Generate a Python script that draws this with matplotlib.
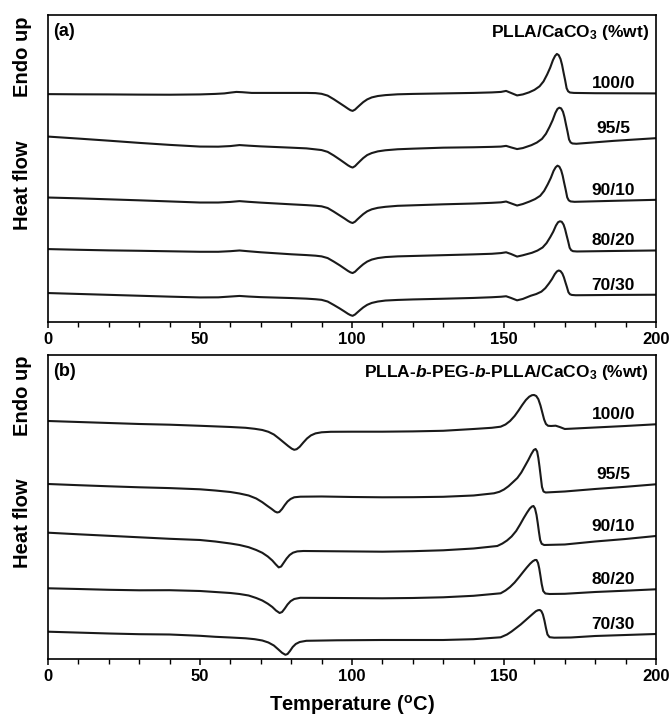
import matplotlib
matplotlib.use("Agg")
import matplotlib.pyplot as plt
from matplotlib.ticker import MultipleLocator

plt.rcParams['font.family'] = ['Liberation Sans', 'DejaVu Sans']
plt.rcParams['mathtext.fontset'] = 'custom'
plt.rcParams['mathtext.rm'] = 'Liberation Sans:bold'
plt.rcParams['mathtext.bf'] = 'Liberation Sans:bold'
plt.rcParams['mathtext.it'] = 'Liberation Sans:italic:bold'

# DSC heating scans, heat flow in arbitrary units (curves already offset)
labels = ['100/0', '95/5', '90/10', '80/20', '70/30']

# (a) PLLA/CaCO3
t_a_100 = [0, 10, 20, 30, 40, 50, 55, 58, 60, 62, 64, 67, 72, 80, 85,
           88, 90, 92, 94, 96, 97.5, 98.7, 99.5, 100.2, 101, 101.8, 102.7, 103.7, 105, 106.5, 108.5, 111, 115, 120, 130,
           140, 146, 149, 150.7, 152.3, 154.3, 156.2,
           158.2, 160, 161.7, 163, 164.2, 165.2, 166.1, 166.8, 167.4, 168, 168.6, 169.1, 169.6, 170.1, 170.6, 171.1, 171.7, 173,
           180, 190, 200]
hf_a_100 = [2.278, 2.276, 2.275, 2.273, 2.272, 2.275, 2.28, 2.285, 2.293, 2.30, 2.297, 2.29, 2.29, 2.29, 2.29,
            2.288, 2.281, 2.263, 2.227, 2.187, 2.157, 2.132, 2.117, 2.11, 2.123, 2.146, 2.171, 2.198, 2.225, 2.245, 2.259,
            2.268, 2.276, 2.28, 2.285,
            2.29, 2.295, 2.30, 2.31, 2.29, 2.265, 2.275,
            2.295, 2.32, 2.356, 2.405, 2.475, 2.543, 2.618, 2.66, 2.68, 2.668, 2.629, 2.571, 2.493, 2.419, 2.337, 2.306,
            2.294, 2.29,
            2.287, 2.286, 2.285]

t_a_95 = [0, 10, 20, 30, 40, 50, 56, 60, 63, 66, 70, 80, 85,
          88, 90, 92, 94, 96, 97.5, 98.7, 99.5, 100.2, 101, 101.8, 102.7, 103.7, 105, 106.5, 108.5, 111, 115, 120, 130,
          140, 146, 149, 150.7, 152.3, 154.3, 156.2,
          159, 160.8, 162.5, 163.8, 165, 166, 166.9, 167.6, 168.2, 168.8, 169.4, 169.9, 170.4, 170.9, 171.4, 171.9, 172.5, 173.8,
          186, 200]
hf_a_95 = [1.853, 1.833, 1.812, 1.79, 1.77, 1.753, 1.752, 1.758, 1.768, 1.762, 1.755, 1.742, 1.735,
           1.725, 1.718, 1.70, 1.664, 1.623, 1.591, 1.565, 1.551, 1.543, 1.557, 1.582, 1.609, 1.638, 1.668, 1.688, 1.705,
           1.716, 1.726, 1.732, 1.742,
           1.746, 1.75, 1.753, 1.76, 1.745, 1.728, 1.738,
           1.767, 1.793, 1.83, 1.881, 1.951, 2.017, 2.09, 2.13, 2.142, 2.135, 2.102, 2.047, 1.973, 1.902, 1.824, 1.795,
           1.784, 1.781,
           1.81, 1.837]

t_a_90 = [0, 10, 20, 30, 40, 50, 56, 60, 63, 66, 70, 80, 85,
          88, 90, 92, 94, 96, 97.5, 98.7, 99.5, 100.2, 101, 101.8, 102.7, 103.7, 105, 106.5, 108.5, 111, 115, 120, 130,
          140, 146, 149, 150.7, 152.3, 154.3, 156.2,
          158.4, 160.2, 161.9, 163.2, 164.4, 165.4, 166.3, 167, 167.6, 168.2, 168.8, 169.3, 169.8, 170.3, 170.8, 171.3, 171.9, 173.2,
          186, 200]
hf_a_90 = [1.243, 1.235, 1.225, 1.215, 1.204, 1.193, 1.193, 1.199, 1.207, 1.2, 1.192, 1.175, 1.167,
           1.161, 1.155, 1.138, 1.102, 1.063, 1.034, 1.009, 0.995, 0.988, 1.001, 1.025, 1.05, 1.077, 1.105, 1.125, 1.14,
           1.15, 1.16, 1.165, 1.175,
           1.183, 1.19, 1.195, 1.203, 1.185, 1.163, 1.178,
           1.203, 1.227, 1.26, 1.309, 1.376, 1.439, 1.509, 1.546, 1.562, 1.552, 1.516, 1.462, 1.389, 1.32, 1.244, 1.215,
           1.204, 1.20,
           1.21, 1.22]

t_a_80 = [0, 10, 20, 30, 40, 50, 56, 60, 63, 66, 70, 80, 85,
          88, 90, 92, 94, 96, 97.5, 98.7, 99.5, 100.2, 101, 101.8, 102.7, 103.7, 105, 106.5, 108.5, 111, 115, 120, 130,
          140, 146, 149, 150.7, 152.3, 154.3, 156.2,
          159.2, 161, 162.7, 164, 165.2, 166.2, 167.1, 167.8, 168.4, 169, 169.6, 170.1, 170.6, 171.1, 171.6, 172.1, 172.7, 174,
          186, 200]
hf_a_80 = [0.727, 0.72, 0.714, 0.71, 0.705, 0.70, 0.70, 0.706, 0.713, 0.705, 0.695, 0.675, 0.667,
           0.661, 0.654, 0.637, 0.602, 0.564, 0.533, 0.508, 0.494, 0.487, 0.50, 0.524, 0.549, 0.575, 0.602, 0.622, 0.637,
           0.647, 0.654, 0.658, 0.666,
           0.674, 0.68, 0.687, 0.695, 0.678, 0.652, 0.665,
           0.69, 0.712, 0.743, 0.787, 0.846, 0.901, 0.963, 0.996, 1.005, 1.0, 0.972, 0.926, 0.864, 0.805, 0.74, 0.716,
           0.706, 0.703,
           0.708, 0.713]

t_a_70 = [0, 10, 20, 30, 40, 50, 56, 60, 63, 66, 70, 80, 85,
          88, 90, 92, 94, 96, 97.5, 98.7, 99.5, 100.2, 101, 101.8, 102.7, 103.7, 105, 106.5, 108.5, 111, 115, 120, 130,
          140, 146, 149, 150.7, 152.3, 154.3, 156.2,
          158.8, 160.6, 162.3, 163.6, 164.8, 165.8, 166.7, 167.4, 168, 168.6, 169.2, 169.7, 170.2, 170.7, 171.2, 171.7, 172.3, 173.6,
          186, 200]
hf_a_70 = [0.287, 0.278, 0.269, 0.26, 0.251, 0.243, 0.244, 0.252, 0.258, 0.252, 0.246, 0.237, 0.231,
           0.225, 0.219, 0.202, 0.168, 0.132, 0.103, 0.079, 0.066, 0.059, 0.072, 0.094, 0.118, 0.143, 0.169, 0.188, 0.202,
           0.212, 0.218, 0.223, 0.23,
           0.238, 0.245, 0.25, 0.255, 0.238, 0.214, 0.228,
           0.26, 0.277, 0.301, 0.336, 0.383, 0.427, 0.476, 0.503, 0.513, 0.506, 0.482, 0.445, 0.395, 0.347, 0.295, 0.275,
           0.268, 0.265,
           0.268, 0.27]

# (b) PLLA-b-PEG-b-PLLA/CaCO3
t_b_100 = [0, 10, 20, 30, 40, 50,
           60, 65, 68, 70.5, 72.5, 74.3, 76, 77.6, 79, 80.2, 81, 81.8, 82.8, 84, 85.2, 86.5, 88, 90, 93, 100,
           110, 120, 130, 140, 146, 148.9,
           150.5, 152, 153.5, 154.8, 156, 157.2, 158.3, 159.2, 159.9, 160.6, 161.3, 162, 162.6, 163.2, 163.8, 164.5,
           165.5, 167, 168.5, 170, 172,
           180, 190, 200]
hf_b_100 = [2.38, 2.37, 2.36, 2.35, 2.343, 2.332,
            2.32, 2.312, 2.302, 2.29, 2.272, 2.245, 2.205, 2.165, 2.13, 2.103, 2.092, 2.098, 2.122, 2.165, 2.205, 2.236,
            2.256, 2.267, 2.272, 2.273,
            2.273, 2.276, 2.282, 2.30, 2.312, 2.323,
            2.345, 2.38, 2.43, 2.485, 2.54, 2.59, 2.623, 2.638, 2.64, 2.63, 2.598, 2.535, 2.465, 2.395, 2.35, 2.332,
            2.33, 2.333, 2.318, 2.30, 2.303,
            2.315, 2.33, 2.347]

t_b_95 = [0, 10, 20, 30, 40, 50,
          55, 60, 63, 66, 68.5, 70.5, 72.2, 73.6, 74.7, 75.4, 76.1, 77, 77.9, 78.8, 79.8, 81, 83, 90, 100,
          110, 120, 130, 140, 146.7,
          148.5, 150, 151.5, 153, 154.4, 155.7, 156.9, 158, 159, 159.8, 160.4, 160.9, 161.3, 161.7, 162.1, 162.5, 163, 163.7,
          170, 180, 190, 200]
hf_b_95 = [1.75, 1.738, 1.727, 1.717, 1.709, 1.697,
           1.685, 1.67, 1.655, 1.635, 1.605, 1.568, 1.53, 1.50, 1.474, 1.465, 1.47, 1.50, 1.54, 1.575, 1.60, 1.617,
           1.623, 1.625, 1.62,
           1.617, 1.618, 1.622, 1.635, 1.657,
           1.672, 1.695, 1.728, 1.77, 1.81, 1.865, 1.93, 1.99, 2.05, 2.09, 2.10, 2.075, 2.01, 1.92, 1.82, 1.72, 1.675, 1.665,
           1.675, 1.70, 1.722, 1.747]

t_b_90 = [0, 10, 20, 30, 40, 50,
          55, 60, 63, 66, 68.5, 70.5, 72.3, 73.8, 74.9, 75.9, 76.7, 77.6, 78.5, 79.5, 80.6, 82, 84, 95,
          110, 120, 130, 140, 147.8,
          149.5, 151, 152.5, 154, 155.3, 156.5, 157.6, 158.5, 159.2, 159.7, 160.2, 160.7, 161.1, 161.5, 161.9, 162.4, 163.2,
          170, 180, 190, 200]
hf_b_90 = [1.263, 1.247, 1.232, 1.217, 1.202, 1.19,
           1.175, 1.155, 1.14, 1.118, 1.09, 1.062, 1.025, 0.985, 0.947, 0.916, 0.925, 0.965, 1.005, 1.04, 1.063, 1.076,
           1.08, 1.077,
           1.073, 1.078, 1.087, 1.105, 1.13,
           1.155, 1.185, 1.225, 1.28, 1.345, 1.41, 1.465, 1.505, 1.525, 1.53, 1.505, 1.44, 1.36, 1.27, 1.19, 1.152, 1.14,
           1.145, 1.175, 1.20, 1.23]

t_b_80 = [0, 10, 20, 30, 40, 50,
          55, 60, 63, 66, 68.5, 70.5, 72.3, 73.8, 75, 76.2, 77, 77.9, 78.8, 79.8, 81, 83, 95,
          110, 120, 130, 140, 148.9,
          150.5, 152, 153.5, 155, 156.3, 157.5, 158.6, 159.5, 160.2, 160.7, 161.2, 161.6, 162, 162.4, 162.9, 163.6, 165,
          170, 180, 190, 200]
hf_b_80 = [0.707, 0.70, 0.692, 0.687, 0.688, 0.68,
           0.67, 0.66, 0.65, 0.635, 0.61, 0.585, 0.553, 0.52, 0.485, 0.46, 0.47, 0.505, 0.545, 0.578, 0.60, 0.612, 0.61,
           0.607, 0.61, 0.617, 0.632, 0.657,
           0.685, 0.72, 0.765, 0.82, 0.87, 0.915, 0.953, 0.978, 0.99, 0.99, 0.96, 0.905, 0.83, 0.75, 0.68, 0.655, 0.65,
           0.652, 0.67, 0.683, 0.697]

t_b_70 = [0, 10, 20, 30, 40, 50,
          55, 60, 65, 68, 70.5, 72.5, 74.3, 75.8, 77, 78.1, 78.8, 79.6, 80.5, 81.5, 82.8, 85, 95,
          110, 120, 130, 140, 148.9,
          151, 152.5, 154, 155.5, 157, 158.3, 159.5, 160.5, 161.2, 161.8, 162.3, 162.8, 163.3, 163.8, 164.3, 165, 166.5,
          172, 180, 190, 200]
hf_b_70 = [0.273, 0.264, 0.255, 0.248, 0.245, 0.232,
           0.222, 0.215, 0.207, 0.198, 0.185, 0.165, 0.135, 0.095, 0.062, 0.042, 0.05, 0.08, 0.12, 0.15, 0.17, 0.182,
           0.187,
           0.19, 0.19, 0.19, 0.198, 0.217,
           0.245, 0.275, 0.31, 0.345, 0.385, 0.42, 0.452, 0.478, 0.488, 0.49, 0.478, 0.445, 0.385, 0.31, 0.245, 0.218,
           0.213,
           0.215, 0.23, 0.24, 0.25]

curves_a = [(t_a_100, hf_a_100), (t_a_95, hf_a_95), (t_a_90, hf_a_90), (t_a_80, hf_a_80), (t_a_70, hf_a_70)]
curves_b = [(t_b_100, hf_b_100), (t_b_95, hf_b_95), (t_b_90, hf_b_90), (t_b_80, hf_b_80), (t_b_70, hf_b_70)]

fig = plt.figure(figsize=(6.7, 7.17), dpi=100)
ax_a = fig.add_axes([0.0716, 0.5513, 0.9075, 0.4278])
ax_b = fig.add_axes([0.0716, 0.0809, 0.9075, 0.4240])

panels = [
    (ax_a, curves_a, 3.07, '(a)', r'PLLA/CaCO$_{\mathrm{3}}$ (%wt)'),
    (ax_b, curves_b, 3.04, '(b)', r'PLLA-$\mathit{b}$-PEG-$\mathit{b}$-PLLA/CaCO$_{\mathrm{3}}$ (%wt)'),
]

for ax, curves, ytop, tag, title in panels:
    for (t, hf), lab in zip(curves, labels):
        ax.plot(t, hf, color='#1a1a1a', lw=1.5, solid_joinstyle='round')
        ax.text(186, hf[-1] + 0.095, lab, ha='center', va='center',
                fontsize=12.5, fontweight='bold')
    ax.set_xlim(0, 200)
    ax.set_ylim(0, ytop)
    ax.set_yticks([])
    ax.xaxis.set_major_locator(MultipleLocator(50))
    ax.xaxis.set_minor_locator(MultipleLocator(10))
    ax.tick_params(axis='x', which='major', direction='out', length=4.5, width=1.1,
                   labelsize=12, pad=3)
    ax.tick_params(axis='x', which='minor', direction='out', length=3.5, width=1.0)
    for lbl in ax.get_xticklabels():
        lbl.set_fontweight('bold')
    for sp in ax.spines.values():
        sp.set_linewidth(1.2)
    ax.text(0.008, 0.975, tag, transform=ax.transAxes, ha='left', va='top',
            fontsize=13, fontweight='bold')
    ax.text(0.988, 0.975, title, transform=ax.transAxes, ha='right', va='top',
            fontsize=12.5, fontweight='bold')
    # y-axis annotation: "Endo up" at the top, "Heat flow" further down
    ax.text(-0.042, 0.865, 'Endo up', transform=ax.transAxes, rotation=90,
            ha='center', va='center', fontsize=14.5, fontweight='bold')
    ax.text(-0.042, 0.445, 'Heat flow', transform=ax.transAxes, rotation=90,
            ha='center', va='center', fontsize=14.5, fontweight='bold')

ax_b.set_xlabel(r'Temperature ($^{\mathrm{o}}$C)', fontsize=14.5, fontweight='bold', labelpad=6.5)

fig.savefig('out.png', dpi=100)
